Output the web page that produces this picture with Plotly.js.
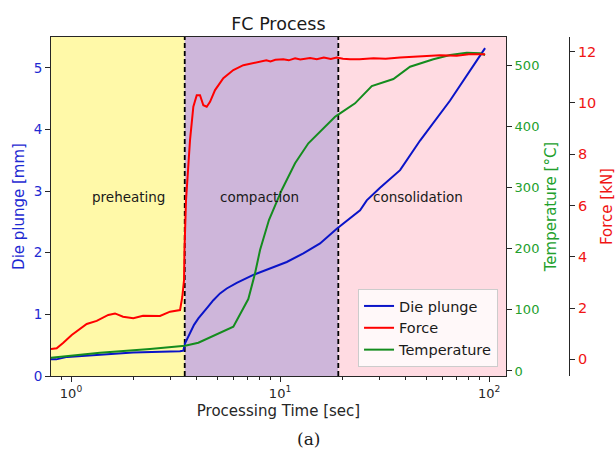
<!DOCTYPE html>
<html>
<head>
<meta charset="utf-8">
<script src="https://cdn.plot.ly/plotly-3.0.1.min.js"></script>
<style>
  html, body { margin: 0; padding: 0; background: #ffffff; }
  #chart { width: 616px; height: 450px; }
</style>
</head>
<body>
<div id="chart"></div>
<script>
// Die plunge displacement [mm] vs processing time [s]
const timeDie = [0.802, 0.85, 0.96, 1.376, 1.98, 3.32, 3.446, 3.512, 3.641, 3.738, 3.878, 4.067, 4.296, 4.539, 4.797, 5.163, 5.559, 6.207, 7.45, 8.957, 10.77, 12.93, 15.54, 18.68, 24.15, 25.99, 30.0, 37.52, 43.29, 46.77, 65.09, 95.70];
const dieVals = [0.27, 0.27, 0.31, 0.35, 0.38, 0.40, 0.41, 0.53, 0.64, 0.72, 0.83, 0.935, 1.04, 1.13, 1.23, 1.34, 1.42, 1.51, 1.64, 1.75, 1.85, 1.99, 2.15, 2.39, 2.69, 2.85, 3.05, 3.34, 3.66, 3.82, 4.47, 5.32];

// Pressing force [kN]
const timeForce = [0.802, 0.854, 0.916, 1.008, 1.189, 1.327, 1.508, 1.624, 1.774, 1.986, 2.211, 2.666, 2.977, 3.323, 3.408, 3.473, 3.49, 3.55, 3.71, 3.848, 3.995, 4.142, 4.296, 4.459, 4.625, 4.887, 5.354, 5.979, 6.674, 8.024, 8.6, 9.0, 9.5, 10.37, 11.0, 11.8, 12.5, 13.92, 15.0, 16.2, 17.5, 18.68, 20.0, 21.63, 24.0, 28.0, 32.0, 37.52, 45.0, 52.0, 58.30, 70.0, 80.0, 95.70];
const forceVals = [0.40, 0.43, 0.64, 0.95, 1.38, 1.50, 1.73, 1.79, 1.66, 1.60, 1.70, 1.69, 1.86, 1.92, 2.44, 3.09, 4.26, 6.21, 8.55, 9.85, 10.30, 10.30, 9.91, 9.85, 10.04, 10.50, 10.96, 11.28, 11.47, 11.60, 11.66, 11.62, 11.68, 11.70, 11.66, 11.74, 11.69, 11.75, 11.70, 11.77, 11.71, 11.77, 11.72, 11.70, 11.70, 11.74, 11.72, 11.77, 11.80, 11.83, 11.86, 11.84, 11.90, 11.90];

// Temperature [°C]
const timeTemp = [0.802, 1.376, 2.388, 3.512, 4.067, 5.979, 7.05, 7.594, 8.024, 8.85, 10.19, 11.80, 13.66, 15.83, 18.33, 19.37, 22.85, 27.47, 30.10, 34.85, 41.88, 54.15, 65.09, 78.22, 90.57, 95.70];
const tempVals = [21.7, 29.9, 35.9, 41.3, 46.2, 72.4, 117.6, 159.6, 197.7, 246.7, 295.8, 339.4, 372.1, 393.8, 415.5, 421.1, 437.4, 465.7, 470.1, 477.1, 497.2, 509.3, 516.3, 520.1, 519.1, 516.3];

// Process phases and their boundaries [s]
const phaseNames = ['preheating', 'compaction', 'consolidation'];
const phaseBounds = [3.5, 19];
const phaseColors = ['rgb(255,249,168)', 'rgb(206,182,218)', 'rgb(255,219,226)'];

const xTickVals = [1, 10, 100];
const xTickText = ['10<sup>0</sup>', '10<sup>1</sup>', '10<sup>2</sup>'];

// ---- layout constants ----
const FONT = 'DejaVu Sans';
const xLogRange = [-0.0957, 2.081];
const xMin = Math.pow(10, xLogRange[0]);
const xMax = Math.pow(10, xLogRange[1]);
const phaseLabelX = [1.875, 8.0, 45.7];
const phaseLabelY = 2.9;
const DARK = '#262626';
const BLUE = '#0a14c8', BLUE_TXT = '#1e2ad2';
const RED = '#ff0000', RED_TXT = '#f01414';
const GREEN = '#148c1e', GREEN_TXT = '#22a02c';

// log-decade minor ticks (2..9 of each decade)
const minorTicks = [];
for (let d = -1; d <= 2; d++) {
  for (let k = 2; k <= 9; k++) {
    const v = k * Math.pow(10, d);
    if (v > xMin && v < xMax) minorTicks.push(v);
  }
}

const traces = [
  { x: timeDie, y: dieVals, type: 'scatter', mode: 'lines', name: 'Die plunge',
    line: { color: BLUE, width: 2 }, xaxis: 'x', yaxis: 'y' },
  { x: timeForce, y: forceVals, type: 'scatter', mode: 'lines', name: 'Force',
    line: { color: RED, width: 2 }, xaxis: 'x', yaxis: 'y3' },
  { x: timeTemp, y: tempVals, type: 'scatter', mode: 'lines', name: 'Temperature',
    line: { color: GREEN, width: 2 }, xaxis: 'x', yaxis: 'y2' }
];

// shaded phases + dashed boundaries
const edges = [xMin].concat(phaseBounds, [xMax]);
const shapes = [];
for (let i = 0; i < phaseNames.length; i++) {
  shapes.push({ type: 'rect', xref: 'x', yref: 'y domain', x0: edges[i], x1: edges[i + 1],
    y0: 0, y1: 1, fillcolor: phaseColors[i], line: { width: 0 }, layer: 'below' });
}
phaseBounds.forEach(b => shapes.push({ type: 'line', xref: 'x', yref: 'y domain', x0: b, x1: b,
  y0: 0, y1: 1, line: { color: '#000000', width: 1.8, dash: '5px,3px' }, layer: 'below' }));

const annotations = phaseNames.map((n, i) => ({
  text: n, xref: 'x', yref: 'y', x: Math.log10(phaseLabelX[i]), y: phaseLabelY,
  showarrow: false, font: { family: FONT, size: 13.5, color: '#1a1a1a' }
}));
// sub-figure caption below the axes
annotations.push({ text: '(a)', xref: 'paper', yref: 'paper', x: 0.498, y: (376 - 439) / 339,
  xanchor: 'center', yanchor: 'middle', borderpad: 0,
  showarrow: false, font: { family: 'DejaVu Serif', size: 17, color: '#1a1a1a' } });

const layout = {
  width: 616, height: 450,
  margin: { l: 51, r: 47, t: 37, b: 74, pad: 0 },
  paper_bgcolor: '#ffffff', plot_bgcolor: '#ffffff',
  font: { family: FONT, color: DARK },
  title: { text: 'FC Process', font: { family: FONT, size: 17.5, color: '#1a1a1a' },
    xref: 'paper', x: 0.439, xanchor: 'center', yref: 'container', y: 1 - 24 / 450, yanchor: 'middle' },
  showlegend: true,
  legend: { x: 0.863, xanchor: 'right', y: 0.0265, yanchor: 'bottom',
    bgcolor: 'rgba(255,255,255,0.8)', bordercolor: '#cccccc', borderwidth: 1,
    font: { family: FONT, size: 14.5, color: '#1a1a1a' }, itemwidth: 30, tracegroupgap: 0 },
  xaxis: {
    type: 'log', range: xLogRange, domain: [0, 455 / 518], automargin: false,
    showline: true, mirror: true, linecolor: DARK, linewidth: 1,
    ticks: 'outside', ticklen: 5, tickcolor: DARK, showgrid: false, zeroline: false,
    tickmode: 'array', tickvals: xTickVals, ticktext: xTickText,
    tickfont: { family: FONT, size: 13, color: DARK },
    minor: { tickmode: 'array', tickvals: minorTicks, ticks: 'outside', ticklen: 3, tickcolor: DARK, showgrid: false },
    title: { text: 'Processing Time [sec]', font: { family: FONT, size: 15, color: DARK }, standoff: 5 }
  },
  yaxis: {
    range: [0, 5.5], dtick: 1, tick0: 0, automargin: false,
    showline: true, mirror: true, linecolor: DARK, linewidth: 1,
    ticks: 'outside', ticklen: 5, tickcolor: DARK, showgrid: false, zeroline: false,
    tickfont: { family: FONT, size: 13.5, color: BLUE_TXT },
    title: { text: 'Die plunge [mm]', font: { family: FONT, size: 15, color: BLUE_TXT }, standoff: 5 }
  },
  yaxis2: {
    overlaying: 'y', side: 'right', anchor: 'x', range: [-8.2, 545.8], dtick: 100, tick0: 0,
    automargin: false, showline: true, linecolor: DARK, linewidth: 1,
    ticks: 'outside', ticklen: 5, tickcolor: DARK, showgrid: false, zeroline: false,
    tickfont: { family: FONT, size: 13, color: GREEN_TXT },
    title: { text: 'Temperature [°C]', font: { family: FONT, size: 15, color: GREEN_TXT }, standoff: 7 }
  },
  yaxis3: {
    overlaying: 'y', side: 'right', anchor: 'free', position: 1, range: [-0.65, 12.57], dtick: 2, tick0: 0,
    automargin: false, showline: true, linecolor: DARK, linewidth: 1,
    ticks: 'outside', ticklen: 5, tickcolor: DARK, showgrid: false, zeroline: false,
    tickfont: { family: FONT, size: 14.5, color: RED_TXT },
    title: { text: 'Force [kN]', font: { family: FONT, size: 15, color: RED_TXT }, standoff: 9 }
  },
  shapes: shapes,
  annotations: annotations
};

Plotly.newPlot('chart', traces, layout, { displayModeBar: false, responsive: false, staticPlot: true });
</script>
</body>
</html>
